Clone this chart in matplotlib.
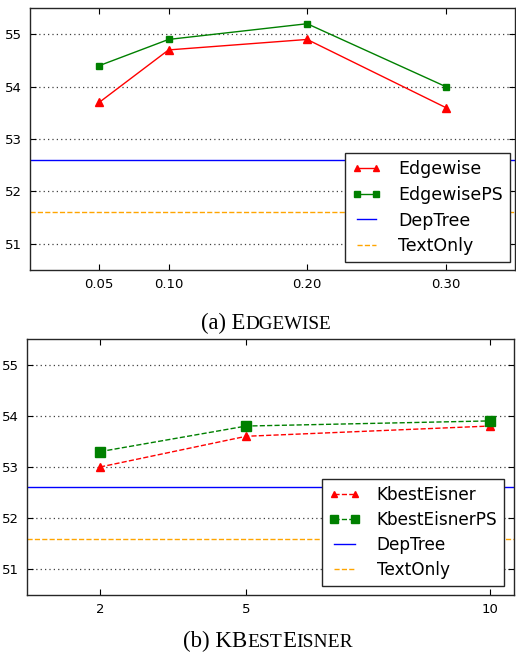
import matplotlib
matplotlib.use("Agg")
import matplotlib.pyplot as plt
from matplotlib.offsetbox import TextArea, HPacker, AnnotationBbox

# ---- data ----
edge_x = [0.05, 0.10, 0.20, 0.30]
edgewise = [53.7, 54.7, 54.9, 53.6]
edgewise_ps = [54.4, 54.9, 55.2, 54.0]
edge_ticks = [0.05, 0.10, 0.20, 0.30]
edge_ticklabels = ["0.05", "0.10", "0.20", "0.30"]

kbest_x = [2, 5, 10]
kbest = [53.0, 53.6, 53.8]
kbest_ps = [53.3, 53.8, 53.9]
kbest_ticks = [2, 5, 10]

deptree = 52.6
textonly = 51.6
y_ticks = [51, 52, 53, 54, 55]

W, H = 516, 653
fig = plt.figure(figsize=(W / 100, H / 100), dpi=100)

def px_axes(l, t, r, b):
    return fig.add_axes([l / W, 1 - b / H, (r - l) / W, (b - t) / H])

def style(ax):
    ax.tick_params(direction="in", top=True, right=True, length=4, labelsize=9.5, pad=6)
    ax.yaxis.grid(True, linestyle=(0, (1, 2.5)), color="0.25", linewidth=0.9)
    ax.set_axisbelow(True)
    for s in ax.spines.values():
        s.set_linewidth(1.0)
        s.set_color("0.15")
    ax.set_yticks(y_ticks)
    ax.set_ylim(50.5, 55.5)

# ---- top panel ----
ax1 = px_axes(30, 8, 515, 270)
style(ax1)
ax1.plot(edge_x, edgewise, color="red", marker="^", markersize=6, linewidth=1, label="Edgewise")
ax1.plot(edge_x, edgewise_ps, color="green", marker="s", markersize=5, linewidth=1, label="EdgewisePS")
ax1.axhline(deptree, color="blue", linewidth=1, label="DepTree")
ax1.axhline(textonly, color="orange", linewidth=1, linestyle="--", label="TextOnly")
ax1.set_xlim(0.0, 0.35)
ax1.set_xticks(edge_ticks)
ax1.set_xticklabels(edge_ticklabels)
leg1 = ax1.legend(loc="lower right", bbox_to_anchor=(0.99, 0.03), fontsize=12.5, numpoints=2,
                  fancybox=False, framealpha=1, edgecolor="0.15", borderaxespad=0,
                  handlelength=1.7, handletextpad=1.0, labelspacing=0.44, borderpad=0.4,
                  markerscale=0.8)
leg1.get_frame().set_linewidth(1.0)

# ---- bottom panel ----
ax2 = px_axes(27, 339, 514, 595)
style(ax2)
ax2.plot(kbest_x, kbest, color="red", marker="^", markersize=6, linewidth=1, linestyle="--", label="KbestEisner")
ax2.plot(kbest_x, kbest_ps, color="green", marker="s", markersize=7, linewidth=1, linestyle="--", label="KbestEisnerPS")
ax2.axhline(deptree, color="blue", linewidth=1, label="DepTree")
ax2.axhline(textonly, color="orange", linewidth=1, linestyle="--", label="TextOnly")
ax2.set_xlim(0.5, 10.5)
ax2.set_xticks(kbest_ticks)
leg2 = ax2.legend(loc="lower right", bbox_to_anchor=(0.98, 0.035), fontsize=12.2, numpoints=2,
                  fancybox=False, framealpha=1, edgecolor="0.15", borderaxespad=0,
                  handlelength=1.85, handletextpad=1.0, labelspacing=0.42, borderpad=0.4,
                  markerscale=0.8)
leg2.get_frame().set_linewidth(1.0)

# ---- captions with small caps ----
def caption(parts, x, y):
    areas = [TextArea(t, textprops=dict(family="Liberation Serif", size=s)) for t, s in parts]
    box = HPacker(children=areas, align="baseline", pad=0, sep=0)
    ab = AnnotationBbox(box, (x / W, 1 - y / H), xycoords="figure fraction", frameon=False,
                        box_alignment=(0.5, 0.5))
    fig.add_artist(ab)

caption([("(a) E", 16.3), ("DGEWISE", 13.8)], 266, 323)
caption([("(b) KB", 16.5), ("EST", 14), ("E", 16.5), ("ISNER", 14)], 268, 641)

fig.savefig("out.png", dpi=100)
